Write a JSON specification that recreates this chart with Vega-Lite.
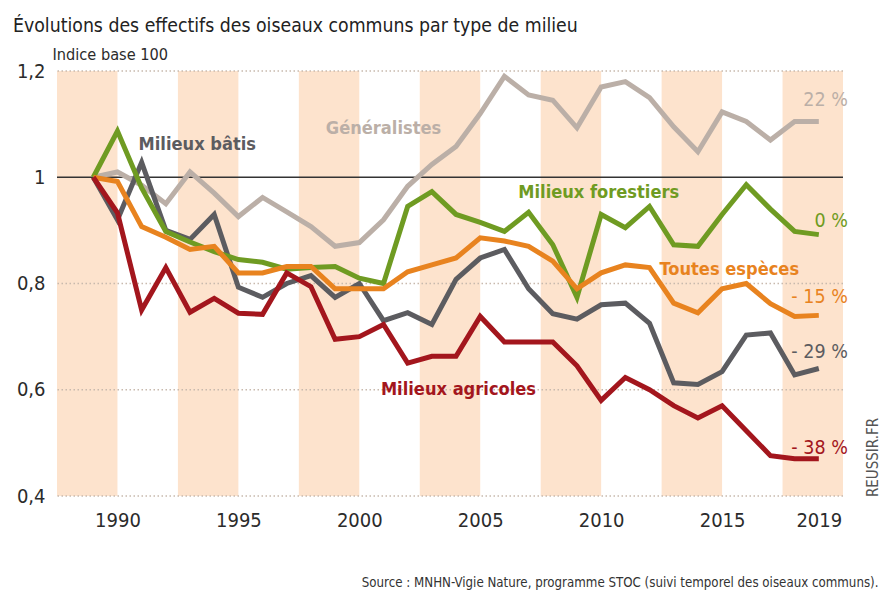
{
  "$schema": "https://vega.github.io/schema/vega-lite/v6.json",
  "width": 786,
  "height": 425,
  "autosize": "none",
  "padding": {"left": 57, "top": 71, "right": 39, "bottom": 98},
  "background": "white",
  "config": {
    "font": "'DejaVu Sans Condensed', 'DejaVu Sans', sans-serif",
    "view": {"stroke": null}
  },
  "title": {
    "text": "Évolutions des effectifs des oiseaux communs par type de milieu",
    "anchor": "start",
    "frame": "group",
    "dx": -44,
    "dy": -6,
    "fontSize": 19.3,
    "fontWeight": "normal",
    "color": "#222222",
    "offset": 4
  },
  "datasets": {
    "indices": [
      {"year": 1989, "generalistes": 1.0, "batis": 1.0, "forestiers": 1.0, "toutes": 1.0, "agricoles": 1.0},
      {"year": 1990, "generalistes": 1.01, "batis": 0.92, "forestiers": 1.087, "toutes": 0.992, "agricoles": 0.933},
      {"year": 1991, "generalistes": 0.985, "batis": 1.028, "forestiers": 0.98, "toutes": 0.907, "agricoles": 0.75},
      {"year": 1992, "generalistes": 0.95, "batis": 0.9, "forestiers": 0.898, "toutes": 0.887, "agricoles": 0.83},
      {"year": 1993, "generalistes": 1.01, "batis": 0.883, "forestiers": 0.878, "toutes": 0.864, "agricoles": 0.746},
      {"year": 1994, "generalistes": 0.97, "batis": 0.93, "forestiers": 0.86, "toutes": 0.87, "agricoles": 0.772},
      {"year": 1995, "generalistes": 0.926, "batis": 0.793, "forestiers": 0.845, "toutes": 0.82, "agricoles": 0.744},
      {"year": 1996, "generalistes": 0.962, "batis": 0.774, "forestiers": 0.84, "toutes": 0.82, "agricoles": 0.742},
      {"year": 1997, "generalistes": 0.935, "batis": 0.8, "forestiers": 0.827, "toutes": 0.832, "agricoles": 0.82},
      {"year": 1998, "generalistes": 0.907, "batis": 0.815, "forestiers": 0.83, "toutes": 0.832, "agricoles": 0.794},
      {"year": 1999, "generalistes": 0.87, "batis": 0.774, "forestiers": 0.832, "toutes": 0.79, "agricoles": 0.695},
      {"year": 2000, "generalistes": 0.877, "batis": 0.8, "forestiers": 0.81, "toutes": 0.79, "agricoles": 0.7},
      {"year": 2001, "generalistes": 0.92, "batis": 0.73, "forestiers": 0.8, "toutes": 0.79, "agricoles": 0.723},
      {"year": 2002, "generalistes": 0.983, "batis": 0.745, "forestiers": 0.945, "toutes": 0.822, "agricoles": 0.65},
      {"year": 2003, "generalistes": 1.024, "batis": 0.723, "forestiers": 0.973, "toutes": 0.835, "agricoles": 0.663},
      {"year": 2004, "generalistes": 1.058, "batis": 0.808, "forestiers": 0.93, "toutes": 0.848, "agricoles": 0.663},
      {"year": 2005, "generalistes": 1.12, "batis": 0.848, "forestiers": 0.915, "toutes": 0.886, "agricoles": 0.738},
      {"year": 2006, "generalistes": 1.19, "batis": 0.864, "forestiers": 0.898, "toutes": 0.88, "agricoles": 0.69},
      {"year": 2007, "generalistes": 1.155, "batis": 0.79, "forestiers": 0.934, "toutes": 0.87, "agricoles": 0.69},
      {"year": 2008, "generalistes": 1.145, "batis": 0.743, "forestiers": 0.873, "toutes": 0.842, "agricoles": 0.69},
      {"year": 2009, "generalistes": 1.093, "batis": 0.733, "forestiers": 0.774, "toutes": 0.79, "agricoles": 0.645},
      {"year": 2010, "generalistes": 1.17, "batis": 0.76, "forestiers": 0.93, "toutes": 0.82, "agricoles": 0.58},
      {"year": 2011, "generalistes": 1.18, "batis": 0.763, "forestiers": 0.905, "toutes": 0.835, "agricoles": 0.623},
      {"year": 2012, "generalistes": 1.15, "batis": 0.725, "forestiers": 0.945, "toutes": 0.83, "agricoles": 0.6},
      {"year": 2013, "generalistes": 1.095, "batis": 0.613, "forestiers": 0.873, "toutes": 0.763, "agricoles": 0.57},
      {"year": 2014, "generalistes": 1.048, "batis": 0.61, "forestiers": 0.87, "toutes": 0.745, "agricoles": 0.547},
      {"year": 2015, "generalistes": 1.123, "batis": 0.634, "forestiers": 0.93, "toutes": 0.79, "agricoles": 0.57},
      {"year": 2016, "generalistes": 1.105, "batis": 0.703, "forestiers": 0.986, "toutes": 0.8, "agricoles": 0.523},
      {"year": 2017, "generalistes": 1.07, "batis": 0.707, "forestiers": 0.94, "toutes": 0.762, "agricoles": 0.476},
      {"year": 2018, "generalistes": 1.105, "batis": 0.628, "forestiers": 0.898, "toutes": 0.738, "agricoles": 0.47},
      {"year": 2019, "generalistes": 1.105, "batis": 0.64, "forestiers": 0.892, "toutes": 0.74, "agricoles": 0.47}
    ],
    "bands": [
      {"start": 1987.5, "end": 1990},
      {"start": 1992.5, "end": 1995},
      {"start": 1997.5, "end": 2000},
      {"start": 2002.5, "end": 2005},
      {"start": 2007.5, "end": 2010},
      {"start": 2012.5, "end": 2015},
      {"start": 2017.5, "end": 2020}
    ],
    "gridlines": [
      {"level": 0.4}, {"level": 0.6}, {"level": 0.8}, {"level": 1.2}
    ],
    "names": [
      {"serie": "batis", "year": 1993.3, "v": 1.06, "label": "Milieux bâtis"},
      {"serie": "generalistes", "year": 2001.0, "v": 1.09, "label": "Généralistes"},
      {"serie": "forestiers", "year": 2009.9, "v": 0.971, "label": "Milieux forestiers"},
      {"serie": "toutes", "year": 2015.3, "v": 0.826, "label": "Toutes espèces"},
      {"serie": "agricoles", "year": 2004.1, "v": 0.599, "label": "Milieux agricoles"}
    ],
    "trends": [
      {"serie": "generalistes", "year": 2020.2, "v": 1.146, "label": "22 %"},
      {"serie": "forestiers", "year": 2020.2, "v": 0.917, "label": "0 %"},
      {"serie": "toutes", "year": 2020.2, "v": 0.774, "label": "- 15 %"},
      {"serie": "batis", "year": 2020.2, "v": 0.672, "label": "- 29 %"},
      {"serie": "agricoles", "year": 2020.2, "v": 0.491, "label": "- 38 %"}
    ]
  },
  "resolve": {"axis": {"y": "independent"}},
  "layer": [
    {
      "data": {"name": "bands"},
      "mark": {"type": "rect", "color": "#fde3cd"},
      "encoding": {
        "x": {"field": "start", "type": "quantitative", "scale": {"domain": [1987.5, 2020], "nice": false, "zero": false}},
        "x2": {"field": "end"},
        "y": {"datum": 0.4, "type": "quantitative", "scale": {"domain": [0.4, 1.2], "nice": false, "zero": false}, "axis": null},
        "y2": {"datum": 1.2}
      }
    },
    {
      "data": {"name": "gridlines"},
      "mark": {"type": "rule", "color": "#c8b9ad", "strokeWidth": 1.5, "strokeDash": [1.5, 2.5]},
      "encoding": {
        "y": {"field": "level", "type": "quantitative", "axis": null}
      }
    },
    {
      "data": {"values": [{}]},
      "mark": {"type": "rule", "color": "#333333", "strokeWidth": 1.5},
      "encoding": {
        "y": {
          "datum": 1,
          "type": "quantitative",
          "axis": {
            "orient": "right",
            "labels": false,
            "ticks": false,
            "domain": false,
            "grid": false,
            "title": "REUSSIR.FR",
            "titleAngle": 270,
            "titleX": 29,
            "titleY": 386,
            "titleAlign": "center",
            "titleBaseline": "middle",
            "titleFontSize": 15,
            "titleFontWeight": "normal",
            "titleColor": "#555555"
          }
        }
      }
    },
    {
      "data": {"name": "indices"},
      "transform": [
        {"fold": ["generalistes", "batis", "forestiers", "toutes", "agricoles"], "as": ["serie", "indice"]}
      ],
      "mark": {"type": "line", "strokeWidth": 5, "strokeJoin": "miter", "strokeCap": "butt"},
      "encoding": {
        "x": {
          "field": "year",
          "type": "quantitative",
          "axis": {
            "values": [1990, 1995, 2000, 2005, 2010, 2015, 2019],
            "format": "d",
            "ticks": false,
            "domain": false,
            "grid": false,
            "labelFontSize": 20,
            "labelColor": "#2b2b2b",
            "labelPadding": 14,
            "title": "Source : MNHN-Vigie Nature, programme STOC (suivi temporel des oiseaux communs).",
            "titleFontSize": 13.2,
            "titleFontWeight": "normal",
            "titleColor": "#333333",
            "titleX": 821,
            "titleY": 90,
            "titleAlign": "right",
            "titleBaseline": "alphabetic"
          }
        },
        "y": {
          "field": "indice",
          "type": "quantitative",
          "axis": {
            "orient": "left",
            "values": [0.4, 0.6, 0.8, 1, 1.2],
            "labelExpr": "datum.value == 1 ? '1' : replace(format(datum.value, '.1f'), '.', ',')",
            "ticks": false,
            "domain": false,
            "grid": false,
            "labelFontSize": 20,
            "labelColor": "#2b2b2b",
            "labelPadding": 12,
            "title": "Indice base 100",
            "titleAngle": 0,
            "titleX": -5,
            "titleY": -12,
            "titleAlign": "left",
            "titleBaseline": "alphabetic",
            "titleFontSize": 16.2,
            "titleFontWeight": "normal",
            "titleColor": "#2b2b2b"
          }
        },
        "color": {
          "field": "serie",
          "type": "nominal",
          "scale": {
            "domain": ["generalistes", "batis", "forestiers", "toutes", "agricoles"],
            "range": ["#bbafa7", "#5c5c60", "#6f9b22", "#e8831f", "#a3161d"]
          },
          "legend": null
        },
        "order": {"field": "year"}
      }
    },
    {
      "data": {"name": "names"},
      "mark": {"type": "text", "fontSize": 18.1, "fontWeight": "bold", "align": "center", "baseline": "middle"},
      "encoding": {
        "x": {"field": "year", "type": "quantitative"},
        "y": {"field": "v", "type": "quantitative", "axis": null},
        "text": {"field": "label"},
        "color": {"field": "serie", "type": "nominal", "legend": null}
      }
    },
    {
      "data": {"name": "trends"},
      "mark": {"type": "text", "fontSize": 19.5, "align": "right", "baseline": "middle"},
      "encoding": {
        "x": {"field": "year", "type": "quantitative"},
        "y": {"field": "v", "type": "quantitative", "axis": null},
        "text": {"field": "label"},
        "color": {"field": "serie", "type": "nominal", "legend": null}
      }
    }
  ]
}
